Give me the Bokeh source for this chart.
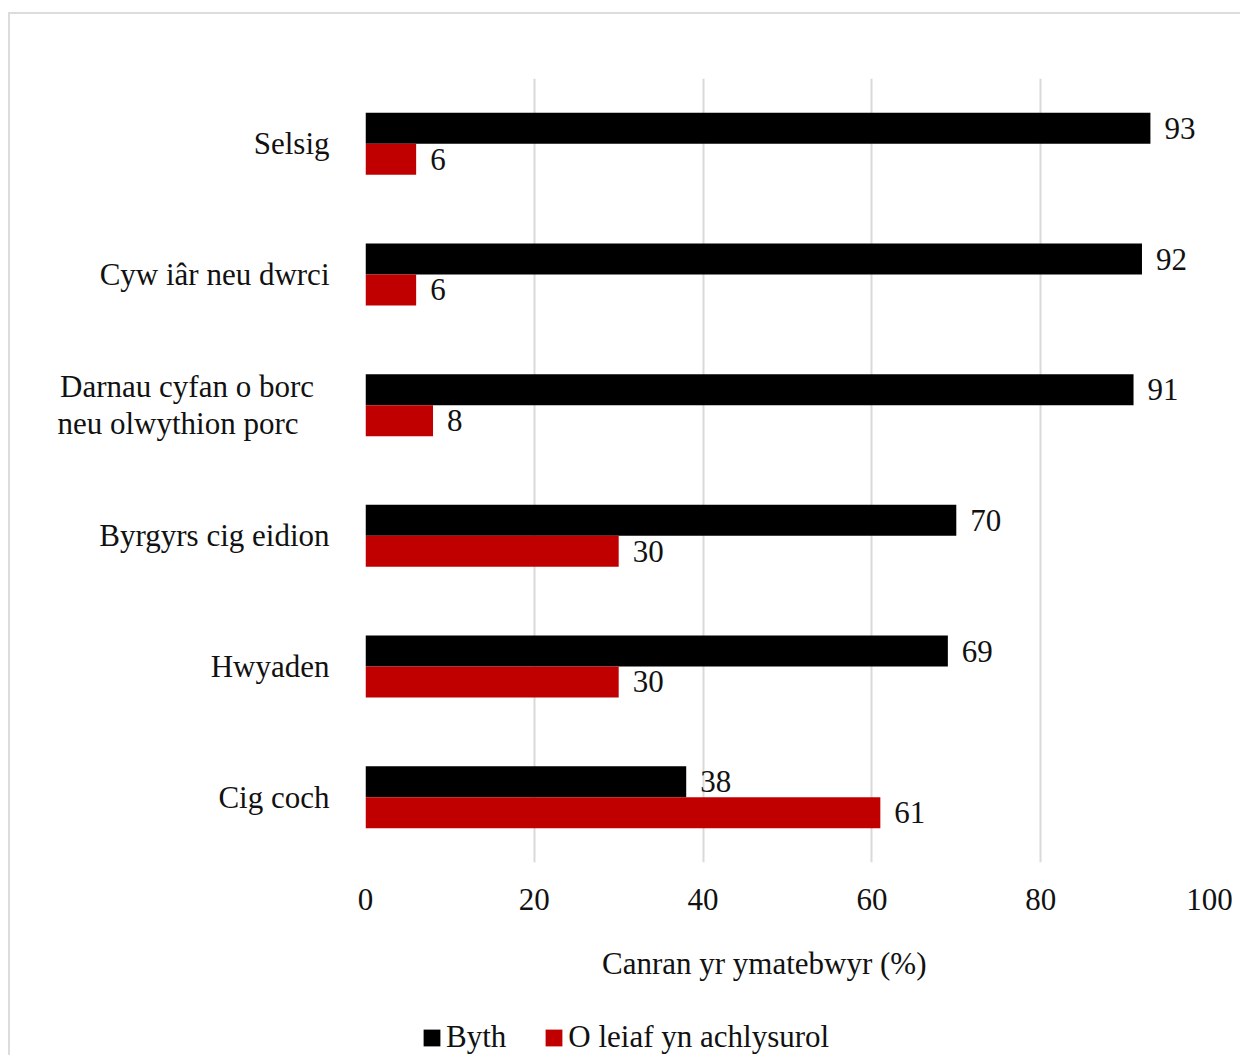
from bokeh.plotting import figure
from bokeh.layouts import column
from bokeh.models import ColumnDataSource, FactorRange, Range1d, Legend, LegendItem, FixedTicker
from bokeh.transform import dodge
from bokeh.core.properties import value
from bokeh.embed import file_html
from bokeh.resources import INLINE

NB = "\u00a0"
categories = ["Selsig", "Cyw iâr neu dwrci",
              "Darnau cyfan o borc" + NB * 2 + "\nneu olwythion porc" + NB * 4,
              "Byrgyrs cig eidion", "Hwyaden", "Cig coch"]
byth = [93, 92, 91, 70, 69, 38]
o_leiaf = [6, 6, 8, 30, 30, 61]
x_ticks = [0, 20, 40, 60, 80, 100]
series_names = ["Byth", "O leiaf yn achlysurol"]
series_colors = ["#000000", "#c00000"]
x_label = "Canran yr ymatebwyr (%)" + NB * 6

FONT = "Liberation Serif"
FS = "31px"

src = ColumnDataSource(data=dict(
    cat=categories, byth=byth, oleiaf=o_leiaf,
    byth_t=[str(v) for v in byth], oleiaf_t=[str(v) for v in o_leiaf],
))

p = figure(width=1230, height=1000,
           y_range=FactorRange(factors=list(reversed(categories))),
           x_range=Range1d(0, 100),
           output_backend="svg", toolbar_location=None)
p.min_border_left = 355
p.min_border_right = 31
p.min_border_top = 64
p.min_border_bottom = 152
p.outline_line_color = None
p.background_fill_color = "white"
p.border_fill_color = "white"

BW = 0.237
r1 = p.hbar(y=dodge("cat", BW / 2, range=p.y_range), right="byth", left=0, height=BW,
            source=src, fill_color=series_colors[0], line_color=None)
r2 = p.hbar(y=dodge("cat", -BW / 2, range=p.y_range), right="oleiaf", left=0, height=BW,
            source=src, fill_color=series_colors[1], line_color=None)

p.text(x="byth", y=dodge("cat", BW / 2, range=p.y_range), text="byth_t", source=src,
       x_offset=14, text_baseline="middle", text_align="left",
       text_font=value(FONT), text_font_size=FS, text_color="#111111")
p.text(x="oleiaf", y=dodge("cat", -BW / 2, range=p.y_range), text="oleiaf_t", source=src,
       x_offset=14, text_baseline="middle", text_align="left",
       text_font=value(FONT), text_font_size=FS, text_color="#111111")

# grid
p.ygrid.grid_line_color = None
p.xgrid.grid_line_color = "#d9d9d9"
p.xgrid.grid_line_width = 2
p.xaxis.ticker = FixedTicker(ticks=x_ticks)

# axes
p.xaxis.axis_line_color = None
p.xaxis.major_tick_line_color = None
p.xaxis.minor_tick_line_color = None
p.xaxis.major_label_text_font = FONT
p.xaxis.major_label_text_font_size = FS
p.xaxis.major_label_text_color = "#111111"
p.xaxis.major_label_standoff = 20
p.xaxis.axis_label = x_label
p.xaxis.axis_label_text_font = FONT
p.xaxis.axis_label_text_font_size = FS
p.xaxis.axis_label_text_font_style = "normal"
p.xaxis.axis_label_text_color = "#111111"
p.xaxis.axis_label_standoff = 33

p.yaxis.axis_line_color = None
p.yaxis.major_tick_line_color = None
p.yaxis.major_tick_out = 0
p.yaxis.major_label_text_font = FONT
p.yaxis.major_label_text_font_size = FS
p.yaxis.major_label_text_color = "#111111"
p.yaxis.major_label_text_line_height = 1.05
p.yaxis.major_label_standoff = 36

# legend strip (separate figure so the legend is not clipped)
q = figure(width=1230, height=41, x_range=Range1d(0, 1), y_range=Range1d(0, 1),
           output_backend="svg", toolbar_location=None,
           min_border=0, min_border_left=0, min_border_right=0, min_border_top=0, min_border_bottom=0)
q.axis.visible = False
q.grid.visible = False
q.outline_line_color = None
q.border_fill_color = "white"
dummy = ColumnDataSource(data=dict(y=[-5.0], right=[0.0]))
l1 = q.hbar(y="y", right="right", left=0, height=0.1, source=dummy,
            fill_color=series_colors[0], line_color=None)
l2 = q.hbar(y="y", right="right", left=0, height=0.1, source=dummy,
            fill_color=series_colors[1], line_color=None)
legend = Legend(items=[LegendItem(label=series_names[0], renderers=[l1], index=0),
                       LegendItem(label=series_names[1], renderers=[l2], index=0)],
                orientation="horizontal", location=(56, 0),
                glyph_width=21, glyph_height=21, label_standoff=4, spacing=37,
                padding=0, margin=0, border_line_alpha=0, background_fill_alpha=0,
                label_text_font=FONT, label_text_font_size=FS, label_text_color="#111111")
q.add_layout(legend, "center")

layout = column(p, q, spacing=0)
layout.styles = {"margin-top": "12px", "margin-left": "8px",
                 "border-top": "2px solid #dcdcdc", "border-left": "2px solid #dcdcdc"}

open("out.html", "w").write(file_html(layout, INLINE))
